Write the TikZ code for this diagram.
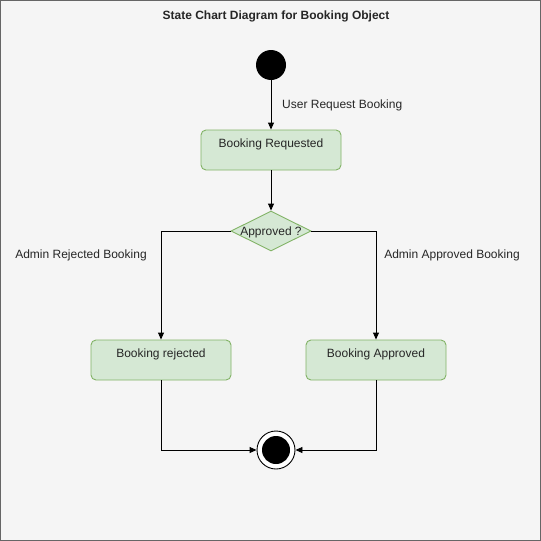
\documentclass[tikz,border=0pt]{standalone}
\usepackage{fontspec}
\setmainfont{Liberation Sans}
\usetikzlibrary{shapes.geometric,arrows.meta}
\definecolor{bg}{HTML}{F5F5F5}
\definecolor{frame}{HTML}{666666}
\definecolor{gfill}{HTML}{D5E8D4}
\definecolor{gline}{HTML}{82B366}
\tikzset{
  statebox/.style={draw=gline,fill=gfill,line width=0.9pt,rounded corners=5pt,minimum width=140pt,minimum height=40pt,
    inner sep=0pt,font=\fontsize{12pt}{14pt}\selectfont,text=black!85},
  conn/.style={draw=black,line width=0.9pt,-{Triangle[width=6pt,length=7pt]}},
  lbl/.style={font=\fontsize{12pt}{14pt}\selectfont,text=black!85,inner sep=0pt},
}
\begin{document}
\begin{tikzpicture}[x=1pt,y=-1pt]
\fill[bg] (0,0) rectangle (541,541);
\draw[frame,line width=1.2pt] (0.6,0.6) rectangle (540.4,540.4);
\useasboundingbox (0,0) rectangle (541,541);
\node[lbl,font=\fontsize{12pt}{14pt}\selectfont\bfseries] (title) at (276,16) {State Chart Diagram for Booking Object};
\node[circle,fill=black,minimum size=30pt,inner sep=0pt] (start) at (271,65) {};
\node[statebox] (req) at (271,150) {};
\node[lbl] (reqt) at (271,144.5) {Booking Requested};
\node[diamond,aspect=2,draw=gline,fill=gfill,line width=0.9pt,minimum width=80pt,minimum height=40pt,inner sep=0pt,font=\fontsize{12pt}{14pt}\selectfont,text=black!85] (dec) at (271,231) {};
\node[lbl] (dect) at (271,232) {Approved ?};
\node[statebox] (rej) at (161,360) {};
\node[lbl] (rejt) at (161,354.5) {Booking rejected};
\node[statebox] (app) at (376,360) {};
\node[lbl] (appt) at (376,354.5) {Booking Approved};
\node[circle,draw=black,line width=0.9pt,fill=white,minimum size=38pt,inner sep=0pt] (end) at (276,450) {};
\fill[black] (end.center) circle (14pt);
\draw[conn] (start) -- (req);
\node[lbl,anchor=west] (l1) at (282,105) {User Request Booking};
\draw[conn] (req) -- (dec);
\draw[conn] (dec.west) -| (rej.north);
\draw[conn] (dec.east) -| (app.north);
\node[lbl] (l2) at (81,255.5) {Admin Rejected Booking};
\node[lbl] (l3) at (452,255.5) {Admin Approved Booking};
\draw[conn] (rej.south) |- (end.west);
\draw[conn] (app.south) |- (end.east);
\end{tikzpicture}
\end{document}
